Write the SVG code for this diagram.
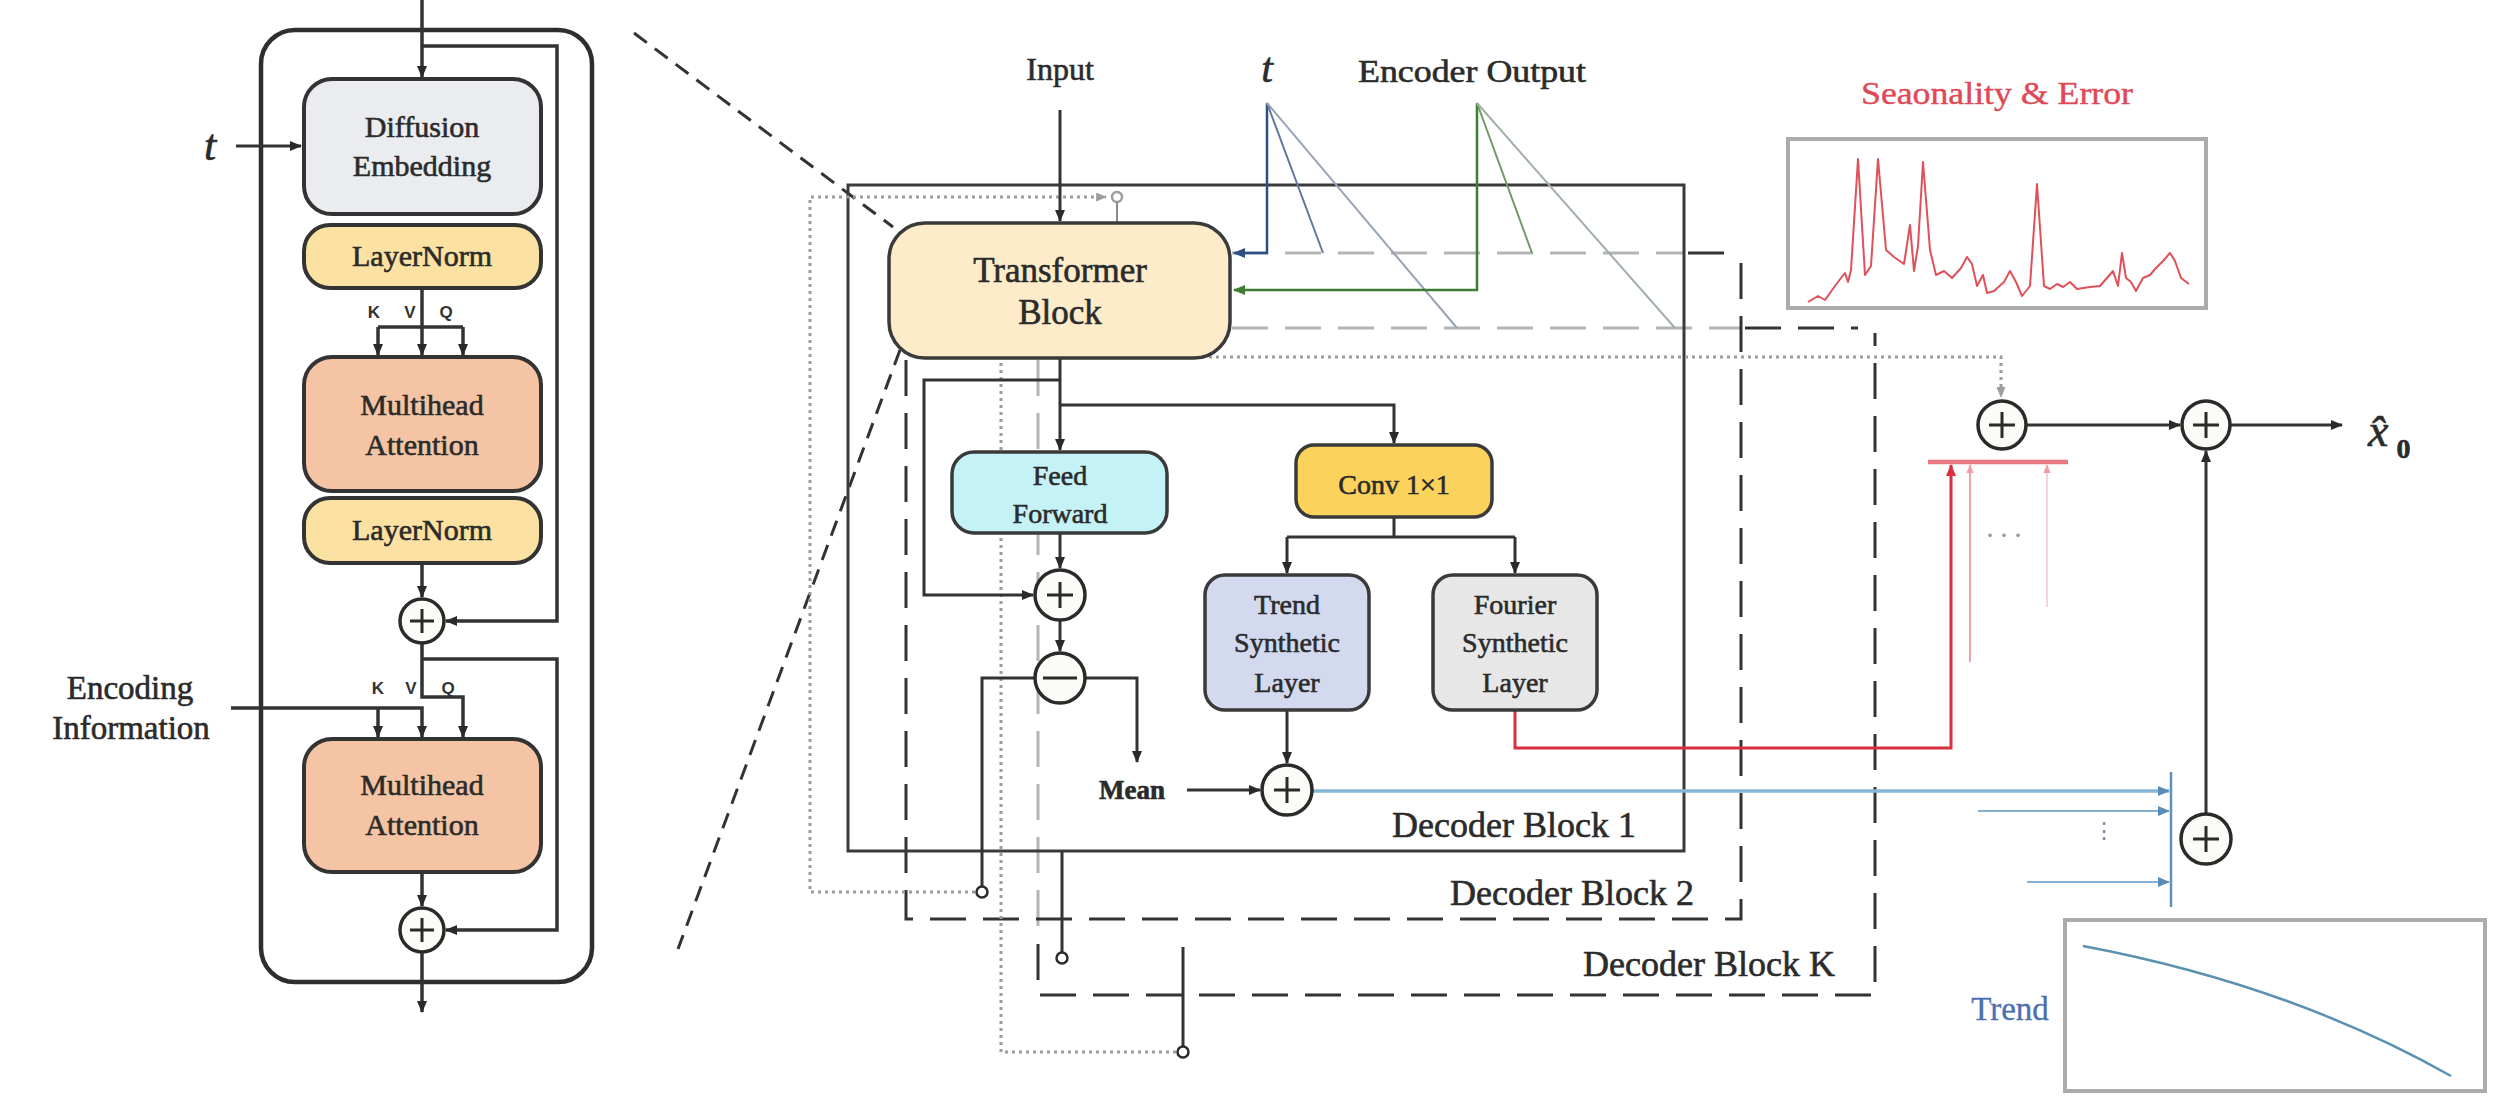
<svg xmlns="http://www.w3.org/2000/svg" width="2520" height="1106" viewBox="0 0 2520 1106">
<defs>
<style>
.txt{font-family:"Liberation Serif","Times New Roman",serif;fill:#2b2b2b;stroke:#2b2b2b;stroke-width:0.6;text-anchor:middle}
.kvq{font-family:"Liberation Sans",Arial,sans-serif;font-weight:bold;font-size:17px;fill:#333;text-anchor:middle}
.ln{fill:none;stroke:#333;stroke-width:3}
.lnl{fill:none;stroke:#333;stroke-width:3.5}
.node{stroke:#333;stroke-width:4}
.nodem{stroke:#3a3a3a;stroke-width:3.5}
.dash{fill:none;stroke:#333;stroke-width:3;stroke-dasharray:36 17}
.dashl{fill:none;stroke:#b4b4b4;stroke-width:3;stroke-dasharray:36 17}
.dot{fill:none;stroke:#9c9c9c;stroke-width:3;stroke-dasharray:3 4}
.circ{fill:#fbfbf7;stroke:#2a2a2a;stroke-width:3.5}
.sign{stroke:#2a2a2a;stroke-width:3;fill:none}
</style>
<marker id="ah" viewBox="0 0 12 10" refX="11" refY="5" markerWidth="12" markerHeight="10" markerUnits="userSpaceOnUse" orient="auto"><path d="M0,0 L12,5 L0,10 z" fill="#2a2a2a"/></marker>
<marker id="ahb" viewBox="0 0 12 10" refX="11" refY="5" markerWidth="12" markerHeight="10" markerUnits="userSpaceOnUse" orient="auto"><path d="M0,0 L12,5 L0,10 z" fill="#2d4f86"/></marker>
<marker id="ahg" viewBox="0 0 12 10" refX="11" refY="5" markerWidth="12" markerHeight="10" markerUnits="userSpaceOnUse" orient="auto"><path d="M0,0 L12,5 L0,10 z" fill="#3f7d35"/></marker>
<marker id="ahr" viewBox="0 0 12 10" refX="11" refY="5" markerWidth="12" markerHeight="10" markerUnits="userSpaceOnUse" orient="auto"><path d="M0,0 L12,5 L0,10 z" fill="#d8303c"/></marker>
<marker id="ahrl" viewBox="0 0 12 10" refX="11" refY="5" markerWidth="9" markerHeight="8" markerUnits="userSpaceOnUse" orient="auto"><path d="M0,0 L12,5 L0,10 z" fill="#eea0a8"/></marker>
<marker id="ahlb" viewBox="0 0 12 10" refX="11" refY="5" markerWidth="12" markerHeight="10" markerUnits="userSpaceOnUse" orient="auto"><path d="M0,0 L12,5 L0,10 z" fill="#5a8cb8"/></marker>
<marker id="ahgr" viewBox="0 0 12 10" refX="11" refY="5" markerWidth="11" markerHeight="9" markerUnits="userSpaceOnUse" orient="auto"><path d="M0,0 L12,5 L0,10 z" fill="#9c9c9c"/></marker>
</defs>
<rect width="2520" height="1106" fill="#ffffff"/>

<!-- ===== LEFT PANEL ===== -->
<g id="left-frame">
<rect x="261" y="30" width="331" height="952" rx="34" fill="none" stroke="#2e2e2e" stroke-width="4.5"/>
</g>

<g id="left-connectors">
<path class="lnl" d="M422,0 V77" marker-end="url(#ah)"/>
<path class="lnl" d="M422,46 H557 V621 H446" marker-end="url(#ah)"/>
<path class="ln" d="M236,146 H301" marker-end="url(#ah)"/>
<path class="lnl" d="M422,288 V355" marker-end="url(#ah)"/>
<path class="lnl" d="M378,327 H463"/>
<path class="lnl" d="M378,327 V355" marker-end="url(#ah)"/>
<path class="lnl" d="M463,327 V355" marker-end="url(#ah)"/>
<path class="lnl" d="M422,563 V597" marker-end="url(#ah)"/>
<path class="lnl" d="M422,643 V697 H463 V737" marker-end="url(#ah)"/>
<path class="lnl" d="M422,659 H557 V930 H446" marker-end="url(#ah)"/>
<path class="lnl" d="M231,708 H422 V737" marker-end="url(#ah)"/>
<path class="lnl" d="M378,708 V737" marker-end="url(#ah)"/>
<path class="lnl" d="M422,872 V906" marker-end="url(#ah)"/>
<path class="lnl" d="M422,952 V1012" marker-end="url(#ah)"/>
</g>

<g id="left-diffusion">
<rect class="node" x="304" y="79" width="237" height="135" rx="28" fill="#eaecef"/>
<text class="txt" x="422" y="137" font-size="30">Diffusion</text>
<text class="txt" x="422" y="176" font-size="30">Embedding</text>
</g>
<g id="left-layernorm1">
<rect class="node" x="304" y="225" width="237" height="63" rx="26" fill="#fce2a2"/>
<text class="txt" x="422" y="266" font-size="30">LayerNorm</text>
</g>
<g id="left-mha1">
<rect class="node" x="304" y="357" width="237" height="134" rx="28" fill="#f5c4a4"/>
<text class="txt" x="422" y="415" font-size="30">Multihead</text>
<text class="txt" x="422" y="455" font-size="30">Attention</text>
</g>
<g id="left-layernorm2">
<rect class="node" x="304" y="498" width="237" height="65" rx="26" fill="#fce2a2"/>
<text class="txt" x="422" y="540" font-size="30">LayerNorm</text>
</g>
<g id="left-mha2">
<rect class="node" x="304" y="739" width="237" height="133" rx="28" fill="#f5c4a4"/>
<text class="txt" x="422" y="795" font-size="30">Multihead</text>
<text class="txt" x="422" y="835" font-size="30">Attention</text>
</g>
<g id="left-add1">
<circle class="circ" cx="422" cy="621" r="22"/>
<path class="sign" d="M410,621 H434 M422,609 V633"/>
</g>
<g id="left-add2">
<circle class="circ" cx="422" cy="930" r="22"/>
<path class="sign" d="M410,930 H434 M422,918 V942"/>
</g>
<g id="left-labels">
<text class="txt" x="210" y="160" font-size="44" font-style="italic">t</text>
<text class="kvq" x="374" y="318">K</text>
<text class="kvq" x="410" y="318">V</text>
<text class="kvq" x="446" y="318">Q</text>
<text class="kvq" x="378" y="694">K</text>
<text class="kvq" x="411" y="694">V</text>
<text class="kvq" x="448" y="694">Q</text>
<text class="txt" x="130" y="699" font-size="33">Encoding</text>
<text class="txt" x="131" y="739" font-size="33">Information</text>
</g>

<!-- ===== ZOOM INDICATOR ===== -->
<g id="zoom-lines">
<path d="M634,33 L893,227" fill="none" stroke="#333" stroke-width="3" stroke-dasharray="16 10"/>
<path d="M900,350 L678,949" fill="none" stroke="#333" stroke-width="3" stroke-dasharray="16 10"/>
</g>

<!-- ===== DECODER BLOCK FRAMES ===== -->
<g id="decoder-block-K">
<path class="dashl" d="M1232,328 H1741"/>
<path class="dashl" d="M1038,360 V940"/>
<path class="dash" d="M1038,944 V995 H1875 V333"/>
<path class="dash" d="M1745,328 H1858"/>
<text class="txt" x="1835" y="976" font-size="36" style="text-anchor:end">Decoder Block K</text>
</g>
<g id="decoder-block-2">
<path class="dashl" d="M1232,253 H1684"/>
<path class="dash" d="M1688,253 H1724"/>
<path class="dash" d="M906,360 V919 H1741 V258"/>
<text class="txt" x="1694" y="905" font-size="36" style="text-anchor:end">Decoder Block 2</text>
</g>
<g id="decoder-block-1">
<rect x="848" y="185" width="836" height="666" fill="none" stroke="#3a3a3a" stroke-width="3"/>
<text class="txt" x="1636" y="837" font-size="36" style="text-anchor:end">Decoder Block 1</text>
</g>

<!-- ===== MAIN CONNECTORS ===== -->
<g id="connectors">
<path class="dot" d="M982,892 H810 V197 H1106" marker-end="url(#ahgr)"/>
<path class="dot" d="M1183,1052 H1001 V357 H2001 V397" marker-end="url(#ahgr)"/>
<circle cx="1117" cy="197" r="5" fill="#fff" stroke="#9c9c9c" stroke-width="2.5"/>
<path d="M1117,202 V223" stroke="#8a8a8a" stroke-width="2" fill="none"/>
<path d="M1267,103 V253 H1234" fill="none" stroke="#2d4f86" stroke-width="2.5" marker-end="url(#ahb)"/>
<path d="M1267,103 L1323,253" fill="none" stroke="#62789c" stroke-width="2"/>
<path d="M1267,103 L1457,328" fill="none" stroke="#97a2b6" stroke-width="2"/>
<path d="M1477,103 V290 H1234" fill="none" stroke="#3f7d35" stroke-width="2.5" marker-end="url(#ahg)"/>
<path d="M1477,103 L1532,253" fill="none" stroke="#6f9a66" stroke-width="2"/>
<path d="M1477,103 L1675,328" fill="none" stroke="#a2b0a2" stroke-width="2"/>
<path class="ln" d="M1060,110 V221" marker-end="url(#ah)"/>
<path class="ln" d="M1060,358 V450" marker-end="url(#ah)"/>
<path class="ln" d="M1060,380 H924 V595 H1033" marker-end="url(#ah)"/>
<path class="ln" d="M1060,405 H1394 V443" marker-end="url(#ah)"/>
<path class="ln" d="M1060,533 V568" marker-end="url(#ah)"/>
<path class="ln" d="M1060,620 V651" marker-end="url(#ah)"/>
<path class="ln" d="M982,892 V678 H1040"/>
<path class="ln" d="M1080,678 H1137 V762" marker-end="url(#ah)"/>
<path class="ln" d="M1394,517 V537 M1287,537 H1515"/>
<path class="ln" d="M1287,537 V573" marker-end="url(#ah)"/>
<path class="ln" d="M1515,537 V573" marker-end="url(#ah)"/>
<path class="ln" d="M1287,710 V763" marker-end="url(#ah)"/>
<path class="ln" d="M1187,790 H1260" marker-end="url(#ah)"/>
<path class="ln" d="M1062,851 V953"/>
<path class="ln" d="M1183,947 V1047"/>
<path d="M1312,791 H2169" fill="none" stroke="#86b6d6" stroke-width="3.5" marker-end="url(#ahlb)"/>
<path d="M1978,811 H2169" fill="none" stroke="#86b0d2" stroke-width="2" marker-end="url(#ahlb)"/>
<path d="M2027,882 H2169" fill="none" stroke="#86b0d2" stroke-width="2" marker-end="url(#ahlb)"/>
<path d="M2171,772 V907" fill="none" stroke="#5f90c0" stroke-width="2.5"/>
<path d="M1515,710 V748 H1951 V465" fill="none" stroke="#d8303c" stroke-width="3" marker-end="url(#ahr)"/>
<path d="M1970,662 V465" fill="none" stroke="#efa2aa" stroke-width="2" marker-end="url(#ahrl)"/>
<path d="M2047,607 V465" fill="none" stroke="#f4c4c8" stroke-width="1.5" marker-end="url(#ahrl)"/>
<path d="M1928,462 H2068" fill="none" stroke="#ea7882" stroke-width="4.5"/>
<path class="ln" d="M2026,425 H2180" marker-end="url(#ah)"/>
<path class="ln" d="M2230,425 H2342" marker-end="url(#ah)"/>
<path class="ln" d="M2206,814 V451" marker-end="url(#ah)"/>
</g>

<g id="junctions">
<circle cx="982" cy="892" r="5.5" fill="#fff" stroke="#2a2a2a" stroke-width="2.5"/>
<circle cx="1062" cy="958" r="5.5" fill="#fff" stroke="#2a2a2a" stroke-width="2.5"/>
<circle cx="1183" cy="1052" r="5.5" fill="#fff" stroke="#2a2a2a" stroke-width="2.5"/>
</g>

<!-- ===== MAIN NODES ===== -->
<g id="transformer-block">
<rect class="nodem" x="889" y="223" width="341" height="135" rx="36" fill="#fdebc9"/>
<text class="txt" x="1060" y="282" font-size="35">Transformer</text>
<text class="txt" x="1060" y="324" font-size="35">Block</text>
</g>
<g id="feed-forward">
<rect class="nodem" x="952" y="452" width="215" height="81" rx="22" fill="#c4f2f6"/>
<text class="txt" x="1060" y="485" font-size="28">Feed</text>
<text class="txt" x="1060" y="523" font-size="28">Forward</text>
</g>
<g id="conv1x1">
<rect class="nodem" x="1296" y="445" width="196" height="72" rx="18" fill="#fbd35c"/>
<text class="txt" x="1394" y="494" font-size="28">Conv 1×1</text>
</g>
<g id="trend-synthetic">
<rect class="nodem" x="1205" y="575" width="164" height="135" rx="20" fill="#d3daf0"/>
<text class="txt" x="1287" y="614" font-size="28">Trend</text>
<text class="txt" x="1287" y="652" font-size="28">Synthetic</text>
<text class="txt" x="1287" y="692" font-size="28">Layer</text>
</g>
<g id="fourier-synthetic">
<rect class="nodem" x="1433" y="575" width="164" height="135" rx="20" fill="#e7e7e7"/>
<text class="txt" x="1515" y="614" font-size="28">Fourier</text>
<text class="txt" x="1515" y="652" font-size="28">Synthetic</text>
<text class="txt" x="1515" y="692" font-size="28">Layer</text>
</g>
<g id="add-ff">
<circle class="circ" cx="1060" cy="595" r="25"/>
<path class="sign" d="M1047,595 H1073 M1060,582 V608"/>
</g>
<g id="sub-mean">
<circle class="circ" cx="1060" cy="678" r="25"/>
<path class="sign" d="M1043,678 H1077"/>
</g>
<g id="add-trend">
<circle class="circ" cx="1287" cy="790" r="25"/>
<path class="sign" d="M1274,790 H1300 M1287,777 V803"/>
</g>
<g id="add-season">
<circle class="circ" cx="2002" cy="425" r="24"/>
<path class="sign" d="M1989,425 H2015 M2002,412 V438"/>
</g>
<g id="add-out">
<circle class="circ" cx="2206" cy="425" r="24"/>
<path class="sign" d="M2193,425 H2219 M2206,412 V438"/>
</g>
<g id="add-trend-sum">
<circle class="circ" cx="2206" cy="839" r="25"/>
<path class="sign" d="M2193,839 H2219 M2206,826 V852"/>
</g>

<g id="labels">
<text class="txt" x="1060" y="80" font-size="32">Input</text>
<text class="txt" x="1267" y="82" font-size="42" font-style="italic">t</text>
<text class="txt" x="1472" y="82" font-size="32" textLength="228" lengthAdjust="spacingAndGlyphs">Encoder Output</text>
<text class="txt" x="1132" y="799" font-size="27" font-weight="bold">Mean</text>
<text class="txt" x="2006" y="545" font-size="30" style="fill:#999;stroke:none;letter-spacing:4px">···</text>
<text class="txt" x="2104" y="838" font-size="22" style="fill:#6a8fb8;stroke:none">⋮</text>
</g>

<g id="seasonality-plot">
<text class="txt" x="1997" y="104" font-size="32" textLength="272" lengthAdjust="spacingAndGlyphs" style="fill:#e04858;stroke:#e04858;stroke-width:0.4">Seaonality &amp; Error</text>
<rect x="1788" y="139" width="418" height="169" fill="#fff" stroke="#ababab" stroke-width="4"/>
<polyline fill="none" stroke="#e0505a" stroke-width="2" stroke-linejoin="round" points="1808,302 1818,296 1825,300 1835,286 1841,278 1845,273 1848,282 1851,270 1858,159 1865,275 1871,266 1878,159 1886,250 1894,257 1904,264 1910,225 1914,271 1918,246 1923,162 1930,250 1936,275 1944,271 1952,278 1961,268 1967,257 1972,264 1977,286 1983,275 1987,293 1994,291 2004,282 2010,271 2016,282 2022,296 2030,286 2037,184 2044,286 2050,289 2057,284 2063,287 2070,282 2077,289 2090,287 2100,286 2107,278 2113,271 2118,286 2122,253 2126,278 2131,282 2136,291 2143,278 2150,275 2156,268 2163,261 2170,253 2175,261 2181,278 2189,284"/>
</g>

<g id="trend-plot">
<rect x="2065" y="920" width="420" height="171" fill="#fff" stroke="#ababab" stroke-width="4"/>
<path d="M2083,946 Q2290,985 2451,1076" fill="none" stroke="#5a90b0" stroke-width="2.5"/>
<text class="txt" x="2010" y="1020" font-size="33" style="fill:#4a6fb0;stroke:#4a6fb0;stroke-width:0.3">Trend</text>
</g>

<g id="output-label">
<text class="txt" x="2368" y="446" font-size="46" font-style="italic" style="text-anchor:start">x&#x0302;<tspan dx="8" dy="12" font-size="28" font-weight="bold" font-style="normal">0</tspan></text>
</g>
</svg>
